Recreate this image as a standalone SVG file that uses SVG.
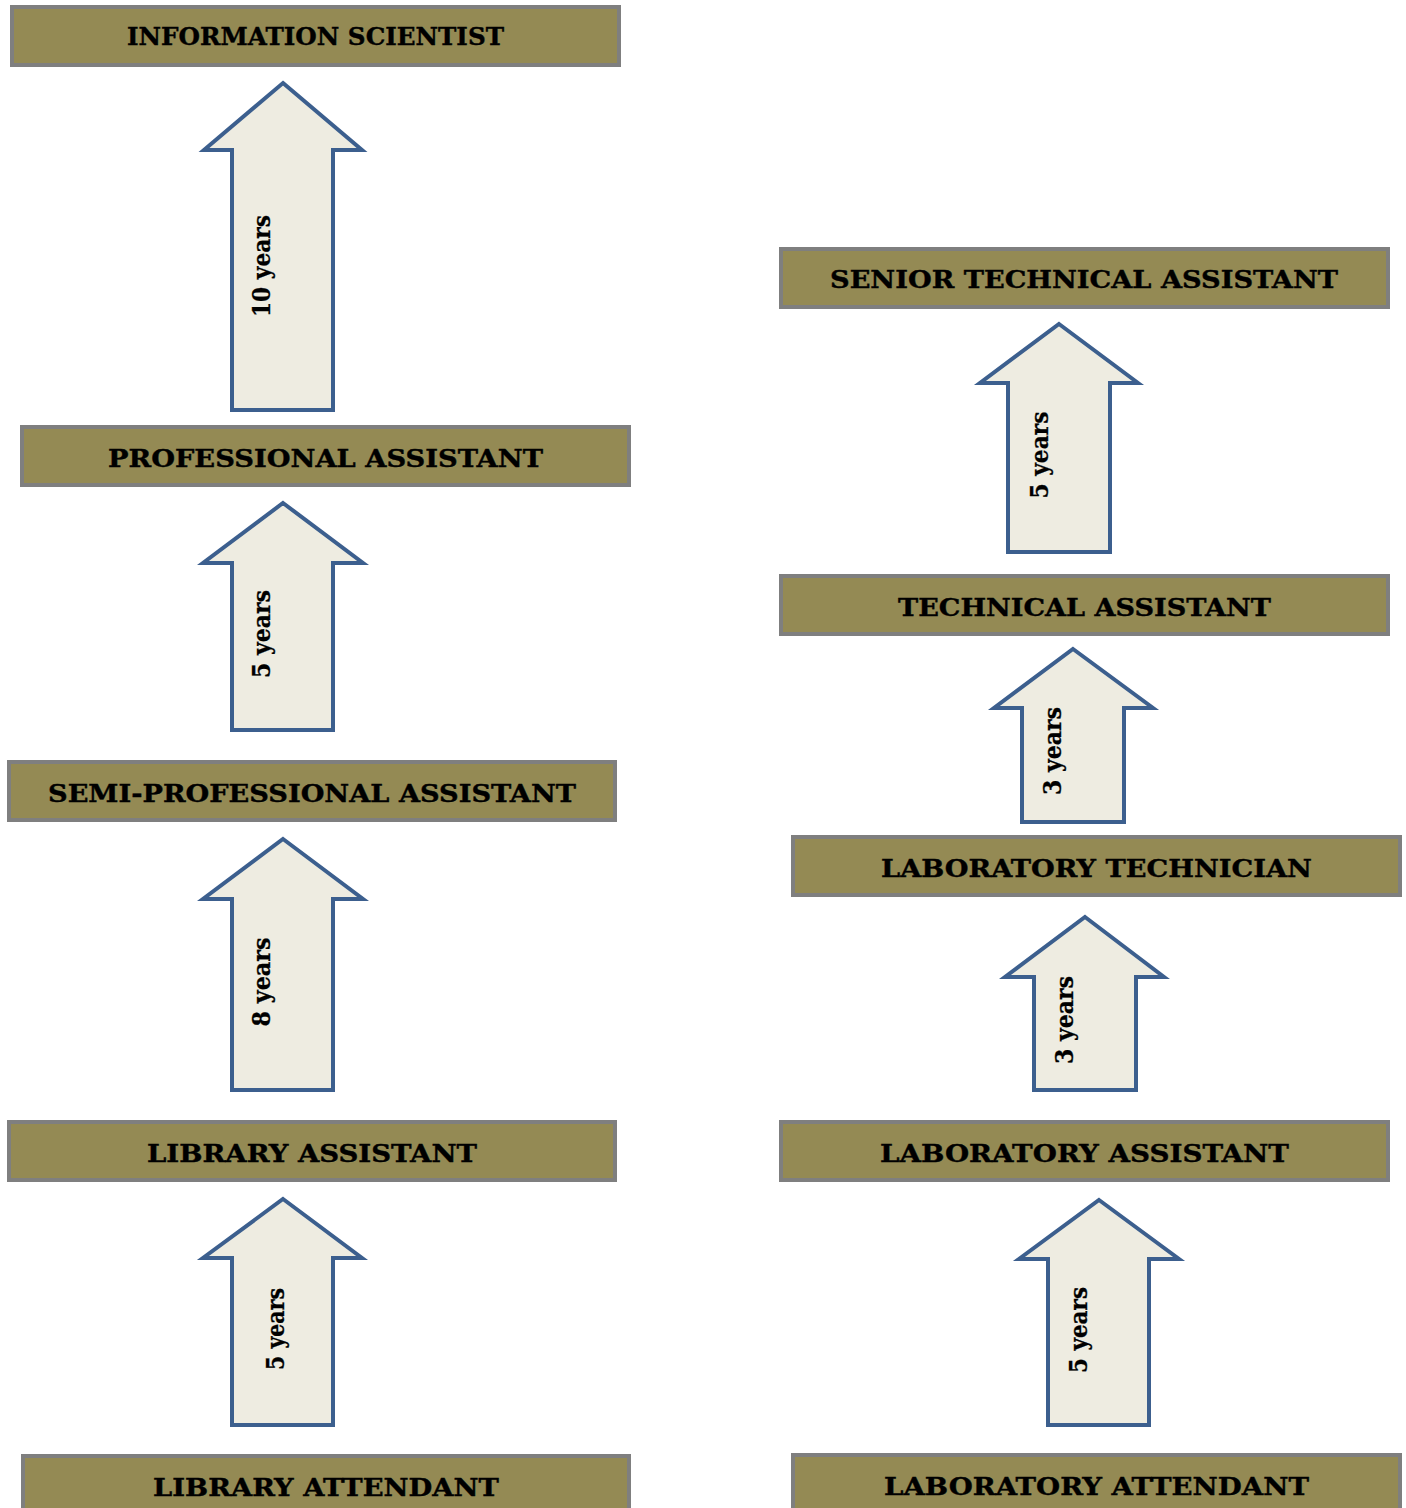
<svg xmlns="http://www.w3.org/2000/svg" width="1406" height="1508" viewBox="0 0 1406 1508">
<style>
.box{fill:#948A54;stroke:#7F7F7F;stroke-width:4}
.lbl{font-family:"DejaVu Serif","Liberation Serif",serif;font-weight:bold;font-size:25px;fill:#000;text-anchor:middle;stroke:#000;stroke-width:0.4}
.arr{fill:#EEECE1;stroke:#3C5F8E;stroke-width:4;stroke-linejoin:miter}
.yr{font-family:"DejaVu Serif","Liberation Serif",serif;font-weight:bold;font-size:24px;fill:#000;text-anchor:middle;stroke:#000;stroke-width:0.3}
</style>
<rect width="1406" height="1508" fill="#fff"/>
<g id="connectors">
<g id="arrow1"><path class="arr" d="M283,83 L362,150 L333,150 L333,410 L232,410 L232,150 L204,150 Z"/><text class="yr" transform="translate(270,266) rotate(-90)" textLength="102" lengthAdjust="spacingAndGlyphs">10 years</text></g>
<g id="arrow2"><path class="arr" d="M283,503 L363,563 L333,563 L333,730 L232,730 L232,563 L203,563 Z"/><text class="yr" transform="translate(270,634) rotate(-90)" textLength="88" lengthAdjust="spacingAndGlyphs">5 years</text></g>
<g id="arrow3"><path class="arr" d="M283,839 L363,899 L333,899 L333,1090 L232,1090 L232,899 L203,899 Z"/><text class="yr" transform="translate(270,982) rotate(-90)" textLength="89" lengthAdjust="spacingAndGlyphs">8 years</text></g>
<g id="arrow4"><path class="arr" d="M283,1199 L362,1258 L333,1258 L333,1425 L232,1425 L232,1258 L203,1258 Z"/><text class="yr" transform="translate(284,1329) rotate(-90)" textLength="82" lengthAdjust="spacingAndGlyphs">5 years</text></g>
<g id="arrow5"><path class="arr" d="M1059,324 L1138,383 L1110,383 L1110,552 L1008,552 L1008,383 L980,383 Z"/><text class="yr" transform="translate(1048,455) rotate(-90)" textLength="87" lengthAdjust="spacingAndGlyphs">5 years</text></g>
<g id="arrow6"><path class="arr" d="M1073,649 L1153,708 L1124,708 L1124,822 L1022,822 L1022,708 L994,708 Z"/><text class="yr" transform="translate(1061,751) rotate(-90)" textLength="88" lengthAdjust="spacingAndGlyphs">3 years</text></g>
<g id="arrow7"><path class="arr" d="M1085,917 L1164,977 L1136,977 L1136,1090 L1034,1090 L1034,977 L1005,977 Z"/><text class="yr" transform="translate(1073,1020) rotate(-90)" textLength="88" lengthAdjust="spacingAndGlyphs">3 years</text></g>
<g id="arrow8"><path class="arr" d="M1099,1200 L1179,1259 L1149,1259 L1149,1425 L1048,1425 L1048,1259 L1019,1259 Z"/><text class="yr" transform="translate(1087,1330) rotate(-90)" textLength="86" lengthAdjust="spacingAndGlyphs">5 years</text></g>
</g>
<g id="n1"><rect class="box" x="12" y="7" width="607" height="58"/><text class="lbl" x="315.5" y="45" textLength="377" lengthAdjust="spacingAndGlyphs">INFORMATION SCIENTIST</text></g>
<g id="n2"><rect class="box" x="22" y="427" width="607" height="58"/><text class="lbl" x="325.5" y="467" textLength="435" lengthAdjust="spacingAndGlyphs">PROFESSIONAL ASSISTANT</text></g>
<g id="n3"><rect class="box" x="9" y="762" width="606" height="58"/><text class="lbl" x="312" y="802" textLength="528" lengthAdjust="spacingAndGlyphs">SEMI-PROFESSIONAL ASSISTANT</text></g>
<g id="n4"><rect class="box" x="9" y="1122" width="606" height="58"/><text class="lbl" x="312" y="1162" textLength="330" lengthAdjust="spacingAndGlyphs">LIBRARY ASSISTANT</text></g>
<g id="n5"><rect class="box" x="23" y="1456" width="606" height="58"/><text class="lbl" x="326" y="1496" textLength="346" lengthAdjust="spacingAndGlyphs">LIBRARY ATTENDANT</text></g>
<g id="n6"><rect class="box" x="781" y="249" width="607" height="58"/><text class="lbl" x="1084" y="288" textLength="508" lengthAdjust="spacingAndGlyphs">SENIOR TECHNICAL ASSISTANT</text></g>
<g id="n7"><rect class="box" x="781" y="576" width="607" height="58"/><text class="lbl" x="1084.5" y="616" textLength="373" lengthAdjust="spacingAndGlyphs">TECHNICAL ASSISTANT</text></g>
<g id="n8"><rect class="box" x="793" y="837" width="607" height="58"/><text class="lbl" x="1096.5" y="877" textLength="431" lengthAdjust="spacingAndGlyphs">LABORATORY TECHNICIAN</text></g>
<g id="n9"><rect class="box" x="781" y="1122" width="607" height="58"/><text class="lbl" x="1084.5" y="1162" textLength="409" lengthAdjust="spacingAndGlyphs">LABORATORY ASSISTANT</text></g>
<g id="n10"><rect class="box" x="793" y="1455" width="607" height="58"/><text class="lbl" x="1096.5" y="1495" textLength="425" lengthAdjust="spacingAndGlyphs">LABORATORY ATTENDANT</text></g>
</svg>
